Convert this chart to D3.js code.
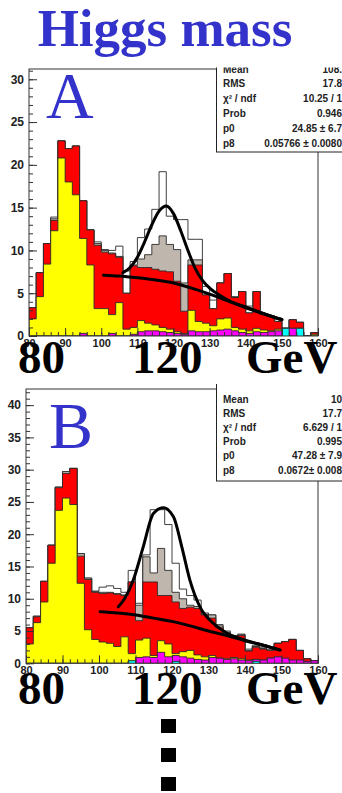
<!DOCTYPE html>
<html><head><meta charset="utf-8">
<script src="https://cdn.jsdelivr.net/npm/d3@7"></script>
<style>body{margin:0;background:#fff}svg{display:block}</style>
</head><body>
<script>
// ---------------- DATA ----------------
const binEdges = d3.range(80, 161, 2);           // 40 bins of 2 GeV, 80..160
const xTicks = [80,90,100,110,120,130,140,150,160];

// Panel A: cumulative tops of each stacked component
const A_total  = [3.3,7.4,10.8,13.9,22.8,21.9,22.2,15.8,12.4,11.0,10.1,10.0,10.5,7.6,8.7,11.5,12.5,14.8,19.2,14.0,13.6,13.6,11.3,11.3,5.8,4.2,6.2,7.3,4.6,5.2,3.5,5.2,2.5,2.3,2.1,0.9,1.9,1.6,0,0.4];
const A_gray   = [3.3,7.4,10.8,13.7,22.8,21.9,22.2,15.8,12.4,10.8,10.0,9.7,9.3,5.0,8.3,9.0,9.5,10.7,11.7,10.7,10.1,6.2,8.9,8.9,4.8,3.2,6.2,7.3,4.5,5.2,2.7,5.2,2.5,2.3,1.7,0.9,1.9,1.6,0,0.4];
const A_red    = [3.3,7.4,10.8,13.5,22.8,21.9,22.2,15.8,12.4,10.6,9.8,9.6,9.2,5.0,8.2,8.0,8.0,7.8,7.6,7.5,6.4,2.9,8.3,8.3,4.8,3.2,6.2,7.3,4.5,5.2,2.7,5.2,2.5,2.3,1.7,0.9,1.9,1.6,0,0.4];
const A_yellow = [2.0,4.6,8.4,12.3,20.8,18.0,16.5,11.4,8.3,3.2,3.2,2.5,3.9,0.8,1.0,1.8,1.5,1.3,1.0,0.8,0.5,0.3,3.0,1.7,1.5,1.2,2.0,2.1,1.0,0.8,0.6,0.9,0.7,0.6,0.8,0.9,0.9,0.9,0,0.2];
const A_magenta= [0,0,0,0,0,0,0,0.3,0,0,0,0.3,0,0,0.2,0.5,0.6,0.6,0.5,0.4,0.3,0.2,0.6,0.5,0.5,0.6,0.7,0.8,0.6,0.4,0.3,0.5,0.4,0.5,0.6,0.9,0.9,0.9,0,0];
const A_cyan   = [0,0,0,0,0,0,0,0,0,0,0,0,0,0,0,0,0,0,0,0,0,0,0,0,0,0,0,0,0,0,0,0,0,0,0,0.9,0,0.9,0,0];
const A_bgX  = [100.6,105,110,115,120,125,130,135,140,145,150];
const A_bgY  = [7.1,7.0,6.8,6.55,6.2,5.6,4.9,4.1,3.3,2.6,1.9];
const A_sigX = [106,108,110,112,114,116,118,120,122,124,126,128,130,133,136,140,145,150];
const A_sigY = [7.4,8.0,9.2,11.0,13.0,14.6,15.2,14.3,12.3,10.0,7.9,6.5,5.6,4.7,4.0,3.4,2.6,1.9];
const A_statLabels = ["Mean","RMS","\u03c7\u00b2 / ndf","Prob","p0","p8"];
const A_statValues = ["108.","17.8","10.25 / 1","0.946","24.85 \u00b1 6.7","0.05766 \u00b1 0.0080"];

// Panel B
const B_total  = [5.5,7.3,12.7,18.3,27.3,29.7,30.2,17.0,13.2,11.2,11.8,12.0,11.6,11.0,14.4,9.3,16.8,23.8,23.8,21.5,15.5,11.5,10.5,9.8,7.8,7.5,6.0,5.0,4.3,4.5,2.2,2.8,2.5,2.5,3.1,3.35,3.7,2.0,0.7,0.4];
const B_gray   = [5.5,7.3,12.7,18.3,27.3,29.7,30.2,17.0,13.2,11.1,11.0,11.0,10.8,10.6,12.6,9.0,16.5,14.0,17.8,14.4,11.0,10.0,9.0,8.8,7.6,7.5,5.8,4.8,4.1,4.5,2.0,2.6,2.3,2.1,3.1,3.35,3.7,2.0,0.7,0.4];
const B_red    = [5.5,7.2,12.7,18.3,27.2,29.4,30.2,16.6,13.0,11.0,10.8,10.9,10.7,10.5,12.6,6.6,12.6,12.6,10.5,10.5,9.5,8.5,8.7,8.5,7.5,7.0,5.5,4.5,4.0,4.3,1.9,2.5,2.2,2.0,3.1,3.35,3.7,2.0,0.7,0.4];
const B_yellow = [3.0,6.3,9.5,15.5,23.7,25.6,24.6,12.4,5.2,3.7,3.3,3.1,2.6,4.1,1.5,3.6,3.9,1.2,3.5,3.0,1.5,1.8,2.0,1.3,1.0,1.2,0.8,0.7,0.9,0.7,0.5,0.6,0.5,0.8,1.0,0.5,0.3,0.3,0.2,0];
const B_magenta= [0,0,0,0,0,0,0,0,0,0,0,0,0,0,0.3,0.9,1.0,0.9,1.7,1.0,1.2,1.0,0.8,0.6,0.5,0.9,0.8,0.6,0.7,0.5,0.4,0.6,0.5,0.8,1.0,0.8,0.5,0.5,0.3,0.4];
const B_cyan   = [0,0,0,0,0,0,0,0,0,0,0,0,0,0,0.4,0,0,0,0,0,0.3,0,0,0,0,0,0,0,0,0,0,0.3,0,0,0,0,0,0,0,0];
const B_bgX  = [100.3,105,110,115,120,125,130,135,140,145,149.6];
const B_bgY  = [8.0,7.8,7.5,7.0,6.5,5.8,5.0,4.3,3.5,2.8,2.05];
const B_sigX = [105.3,107,109.4,112.1,114.9,117.6,120.4,122.7,124.9,127.7,131.3,135,140,145,149.6];
const B_sigY = [8.75,10.0,12.9,18.0,23.2,24.1,22.7,18.0,12.9,8.7,6.2,4.7,3.6,2.8,2.05];
const B_statLabels = ["Mean","RMS","\u03c7\u00b2 / ndf","Prob","p0","p8"];
const B_statValues = ["10","17.7","6.629 / 1","0.995","47.28 \u00b1 7.9","0.0672\u00b1 0.008"];

const bigLabels = ["80","120","GeV"];
const layerColors = ["#ffffff","#bfb6ad","#ff0000","#ffff00","#ff00ff","#00ffff"];

// ---------------- DRAW ----------------
const W = 342, H = 793;
const svg = d3.select("body").append("svg").attr("width", W).attr("height", H);
svg.append("rect").attr("width", W).attr("height", H).attr("fill", "#fff");

function panel(cfg) {
  const g = svg.append("g");
  const x = d3.scaleLinear().domain([80,160]).range([cfg.left, cfg.right]);
  const y = d3.scaleLinear().domain([0, cfg.ymax]).range([cfg.bottom, cfg.top]);
  const clipId = "clip" + cfg.name;
  svg.append("clipPath").attr("id", clipId).append("rect")
    .attr("x", cfg.left).attr("y", cfg.top).attr("width", cfg.right - cfg.left).attr("height", cfg.bottom - cfg.top);
  const hg = g.append("g").attr("clip-path", `url(#${clipId})`);

  const area = d3.area().curve(d3.curveStepAfter)
    .x(d => x(d[0])).y0(y(0)).y1(d => y(d[1]));
  cfg.layers.forEach((vals, li) => {
    const pts = vals.map((v, i) => [binEdges[i], v]);
    pts.push([binEdges[vals.length], vals[vals.length - 1]]);
    hg.append("path").attr("d", area(pts)).attr("fill", layerColors[li]);
    const lp = [[binEdges[0], 0]].concat(pts).concat([[binEdges[vals.length], 0]]);
    hg.append("path").attr("d", d3.line().x(d => x(d[0])).y(d => y(d[1]))(
        lp.flatMap((d, i) => i > 0 && i < lp.length - 1 ? [[d[0], lp[i-1][1]], d] : [d])))
      .attr("fill", "none").attr("stroke", "#2a2a2a").attr("stroke-width", 0.9);
  });

  // fit curves
  const cl = d3.line().curve(d3.curveMonotoneX).x(d => x(d[0])).y(d => y(d[1]));
  hg.append("path").attr("d", cl(cfg.bgX.map((v, i) => [v, cfg.bgY[i]])))
    .attr("fill", "none").attr("stroke", "#000").attr("stroke-width", 3).attr("stroke-linecap", "round");
  hg.append("path").attr("d", cl(cfg.sigX.map((v, i) => [v, cfg.sigY[i]])))
    .attr("fill", "none").attr("stroke", "#000").attr("stroke-width", 3).attr("stroke-linecap", "round");

  // frame
  g.append("rect").attr("x", cfg.left).attr("y", cfg.top).attr("width", cfg.right - cfg.left)
    .attr("height", cfg.bottom - cfg.top).attr("fill", "none").attr("stroke", "#333").attr("stroke-width", 1);

  // y axis
  const yMinor = g.append("g").attr("transform", `translate(${cfg.left},0)`)
    .call(d3.axisLeft(y).tickValues(d3.range(0, Math.floor(cfg.ymax) + 1, 1)).tickSize(-4).tickFormat(""));
  const yMajor = g.append("g").attr("transform", `translate(${cfg.left},0)`)
    .call(d3.axisLeft(y).tickValues(cfg.yTicks).tickSize(-8).tickPadding(5));
  [yMinor, yMajor].forEach(a => { a.select(".domain").remove(); a.selectAll("line").attr("stroke", "#333"); });
  yMajor.selectAll("text").attr("font-family", "Liberation Sans, Arial, sans-serif")
    .attr("font-weight", "bold").attr("font-size", 12).attr("fill", "#222");

  // x axis
  const xMinor = g.append("g").attr("transform", `translate(0,${cfg.bottom})`)
    .call(d3.axisBottom(x).tickValues(d3.range(80, 161, 2)).tickSize(-4).tickFormat(""));
  const xMajor = g.append("g").attr("transform", `translate(0,${cfg.bottom})`)
    .call(d3.axisBottom(x).tickValues(xTicks).tickSize(-8).tickPadding(3));
  [xMinor, xMajor].forEach(a => { a.select(".domain").remove(); a.selectAll("line").attr("stroke", "#333"); });
  xMajor.selectAll("text").attr("font-family", "Liberation Sans, Arial, sans-serif")
    .attr("font-weight", "bold").attr("font-size", 11).attr("fill", "#222");

  // panel letter
  g.append("text").attr("x", cfg.letterX).attr("y", cfg.letterY).text(cfg.name)
    .attr("font-family", "Liberation Serif, Times New Roman, serif").attr("font-size", 66)
    .attr("fill", "#3333cc");

  // stats box
  const sb = g.append("g");
  sb.append("rect").attr("x", 216.5).attr("y", cfg.boxTop).attr("width", 140)
    .attr("height", cfg.boxBottom - cfg.boxTop).attr("fill", "#fff").attr("stroke", "#222").attr("stroke-width", 1);
  cfg.statLabels.forEach((t, i) => {
    const yy = cfg.statBase + i * cfg.statStep;
    sb.append("text").attr("x", 223).attr("y", yy).text(t)
      .attr("font-family", "Liberation Sans, Arial, sans-serif").attr("font-weight", "bold")
      .attr("font-size", 10).attr("fill", "#222");
    sb.append("text").attr("x", 342).attr("y", yy).attr("text-anchor", "end").text(cfg.statValues[i])
      .attr("font-family", "Liberation Sans, Arial, sans-serif").attr("font-weight", "bold")
      .attr("font-size", 10).attr("fill", "#222");
  });

  // big serif labels
  const bx = [18, 132, 246];
  bigLabels.forEach((t, i) => {
    g.append("text").attr("x", bx[i]).attr("y", cfg.bigBase).text(t)
      .attr("font-family", "Liberation Serif, Times New Roman, serif").attr("font-weight", "bold")
      .attr("font-size", 47).attr("fill", "#000");
  });
  return g;
}

panel({name: "A", left: 29, right: 318, top: 69, bottom: 336, ymax: 31.2, yTicks: [0,5,10,15,20,25,30],
  layers: [A_total, A_gray, A_red, A_yellow, A_magenta, A_cyan],
  bgX: A_bgX, bgY: A_bgY, sigX: A_sigX, sigY: A_sigY,
  letterX: 46, letterY: 118, boxTop: 58, boxBottom: 152, statBase: 72.5, statStep: 14.8,
  statLabels: A_statLabels, statValues: A_statValues, bigBase: 373});

// white cover of title area (hides top of A's box)
svg.append("rect").attr("x", 0).attr("y", 0).attr("width", W).attr("height", 67.5).attr("fill", "#fff");
svg.append("text").attr("x", 165).attr("y", 46).attr("text-anchor", "middle").text("Higgs mass")
  .attr("font-family", "Liberation Serif, Times New Roman, serif").attr("font-weight", "bold")
  .attr("font-size", 53).attr("fill", "#3333cc");

panel({name: "B", left: 26, right: 318, top: 389, bottom: 663.3, ymax: 42.5, yTicks: [0,5,10,15,20,25,30,35,40],
  layers: [B_total, B_gray, B_red, B_yellow, B_magenta, B_cyan],
  bgX: B_bgX, bgY: B_bgY, sigX: B_sigX, sigY: B_sigY,
  letterX: 49, letterY: 448, boxTop: 378, boxBottom: 481, statBase: 402.5, statStep: 14.2,
  statLabels: B_statLabels, statValues: B_statValues, bigBase: 704});

// white strip hiding the top of B's box (as in the reference)
svg.append("rect").attr("x", 212).attr("y", 376).attr("width", 130).attr("height", 8).attr("fill", "#fff");

// vertical ellipsis squares
const dotRows = [0, 1, 2];
svg.selectAll("rect.dot").data(dotRows).enter().append("rect").attr("class", "dot")
  .attr("x", 161).attr("y", d => 719 + d * 29).attr("width", 15).attr("height", 14).attr("fill", "#000");
</script>
</body></html>
